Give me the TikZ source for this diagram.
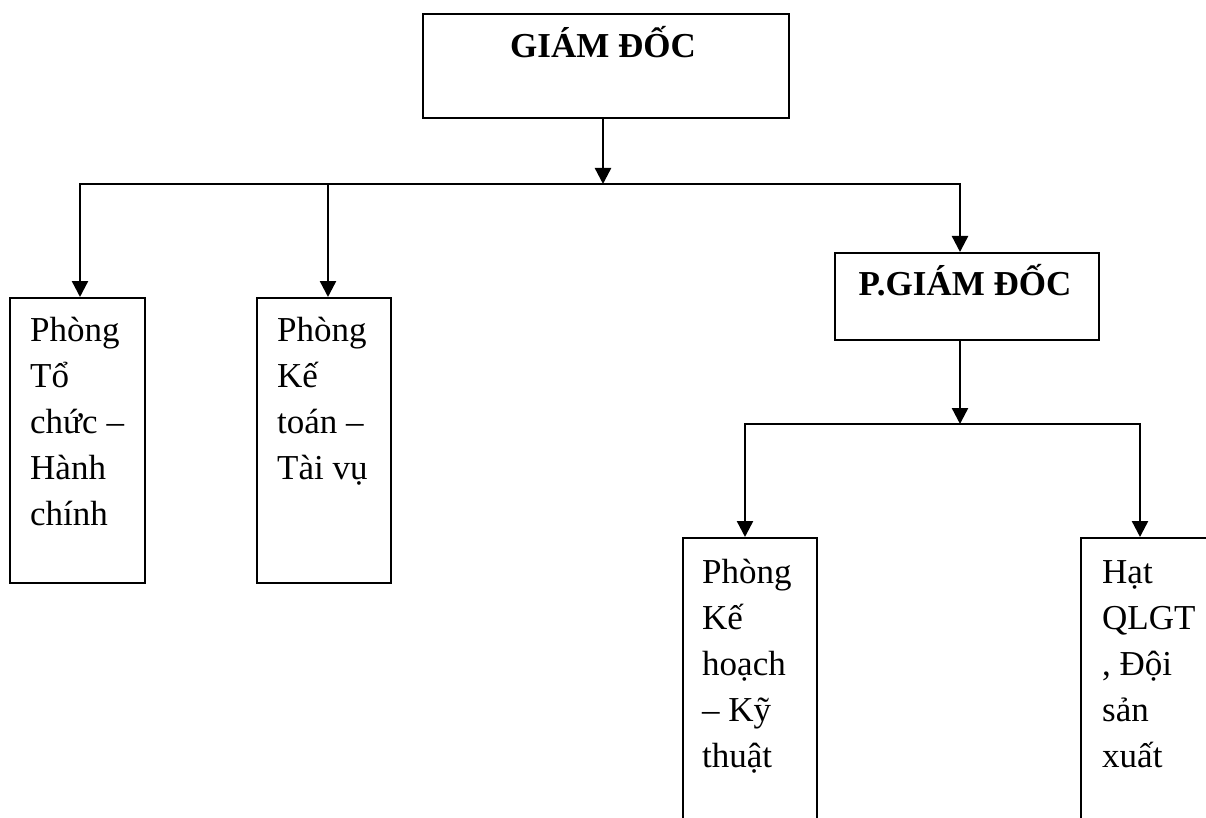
\documentclass[tikz,border=0pt]{standalone}
\usepackage{fontspec}
\setmainfont{Liberation Serif}
\usetikzlibrary{arrows.meta}
\begin{document}
\begin{tikzpicture}[x=1pt,y=-1pt,
  boxshape/.style={draw, line width=2.2pt, rectangle, inner sep=0pt, anchor=north west},
  conn/.style={line width=2.4pt},
  arr/.style={line width=2.4pt, -{Triangle[length=16pt,width=16pt]}},
  body/.style={anchor=base west, inner sep=0pt, font=\fontsize{35}{46}\selectfont},
  title/.style={anchor=base, inner sep=0pt, font=\fontsize{35}{42}\selectfont\bfseries}]
\path[use as bounding box, clip] (0,0) rectangle (1206,818);
% boxes
\node[boxshape, minimum width=366pt, minimum height=104pt] (gd) at (422,13) {};
\node[boxshape, minimum width=264pt, minimum height=87pt] (pgd) at (834,252) {};
\node[boxshape, minimum width=135pt, minimum height=285pt] (b1) at (9,297) {};
\node[boxshape, minimum width=134pt, minimum height=285pt] (b2) at (256,297) {};
\node[boxshape, minimum width=134pt, minimum height=320pt] (b3) at (682,537) {};
\node[boxshape, minimum width=160pt, minimum height=320pt] (b4) at (1080,537) {};
% texts
\node[title] (tgd) at (603,58) {GIÁM ĐỐC};
\node[title] (tpgd) at (965,295) {P.GIÁM ĐỐC};
\node[body] (t1) at (30,341) {\parbox[t]{120pt}{\raggedright Phòng\\Tổ\\chức –\\Hành\\chính}};
\node[body] (t2) at (277,341) {\parbox[t]{120pt}{\raggedright Phòng\\Kế\\toán –\\Tài vụ}};
\node[body] (t3) at (702,583) {\parbox[t]{120pt}{\raggedright Phòng\\Kế\\hoạch\\– Kỹ\\thuật}};
\node[body] (t4) at (1102,583) {\parbox[t]{120pt}{\raggedright Hạt\\QLGT\\, Đội\\sản\\xuất}};
% junction coordinates
\coordinate (jm) at (603,184);
\coordinate (jl) at (80,184);
\coordinate (jc) at (328,184);
\coordinate (jr) at (960,184);
\coordinate (km) at (960,424);
\coordinate (kl) at (745,424);
\coordinate (kr) at (1140,424);
% connectors
\draw[arr] (jm |- gd.south) -- (jm);
\draw[arr] (jm) -- (jl) -- (jl |- b1.north);
\draw[arr] (jm) -- (jr) -- (jr |- pgd.north);
\draw[arr] (jc) -- (jc |- b2.north);
\draw[arr] (km |- pgd.south) -- (km);
\draw[arr] (km) -- (kl) -- (kl |- b3.north);
\draw[arr] (km) -- (kr) -- (kr |- b4.north);
\end{tikzpicture}
\end{document}
